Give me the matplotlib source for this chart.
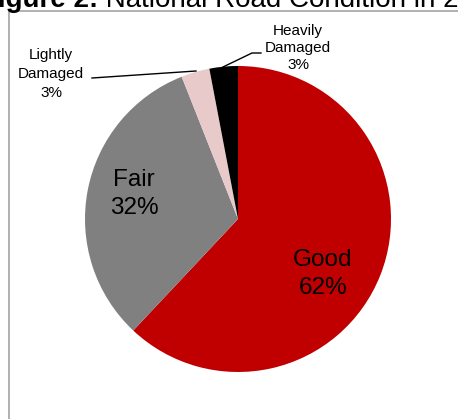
import matplotlib.pyplot as plt

# road condition shares (%)
categories = ['Good', 'Fair', 'Lightly\nDamaged', 'Heavily\nDamaged']
shares = [62, 32, 3, 3]
colors = ['#C00000', '#808080', '#E8CACA', '#000000']

plt.rcParams['font.family'] = ['Liberation Sans', 'DejaVu Sans']

W, H = 458, 419
fig = plt.figure(figsize=(W / 100, H / 100), dpi=100)
ax = fig.add_axes([0, 0, 1, 1])


def py(y):
    # pixel rows counted from the top
    return H - y


cx, cy, r = 238, py(219), 153
ax.pie(shares, colors=colors, startangle=90, counterclock=False,
       center=(cx, cy), radius=r, wedgeprops=dict(linewidth=0))
ax.set_xlim(0, W)
ax.set_ylim(0, H)
ax.set_aspect('equal')
ax.axis('off')

# chart frame
ax.plot([9, 9, W + 10], [-10, py(11.5), py(11.5)], color='#a3a3a3', lw=1.2,
        clip_on=False, solid_joinstyle='miter')

# title (runs off the edges)
ax.text(98, py(7), 'Figure 2:', ha='right', va='baseline', fontsize=20,
        fontweight='bold')
ax.text(98, py(7), ' National Road Condition in 2', ha='left', va='baseline',
        fontsize=20)

# labels inside the big wedges
ax.text(134, py(194), f'{categories[1]}\n{shares[1]}%', ha='center', va='center',
        fontsize=17.5, linespacing=1.4)
ax.text(323, py(274), f'{categories[0]}\n{shares[0]}%', ha='center', va='center',
        fontsize=17.5, linespacing=1.4)

# outside labels with leader lines
ax.text(51, py(74), f'{categories[2]}\n{shares[2]}%', ha='center', va='center',
        fontsize=11, linespacing=1.45)
ax.plot([92, 196], [py(78), py(71)], color='black', lw=1)
ax.text(298, py(48), f'{categories[3]}\n{shares[3]}%', ha='center', va='center',
        fontsize=11, linespacing=1.3)
ax.plot([223, 252, 261], [py(67), py(53), py(53)], color='black', lw=1)

fig.savefig('out.png', dpi=100)
